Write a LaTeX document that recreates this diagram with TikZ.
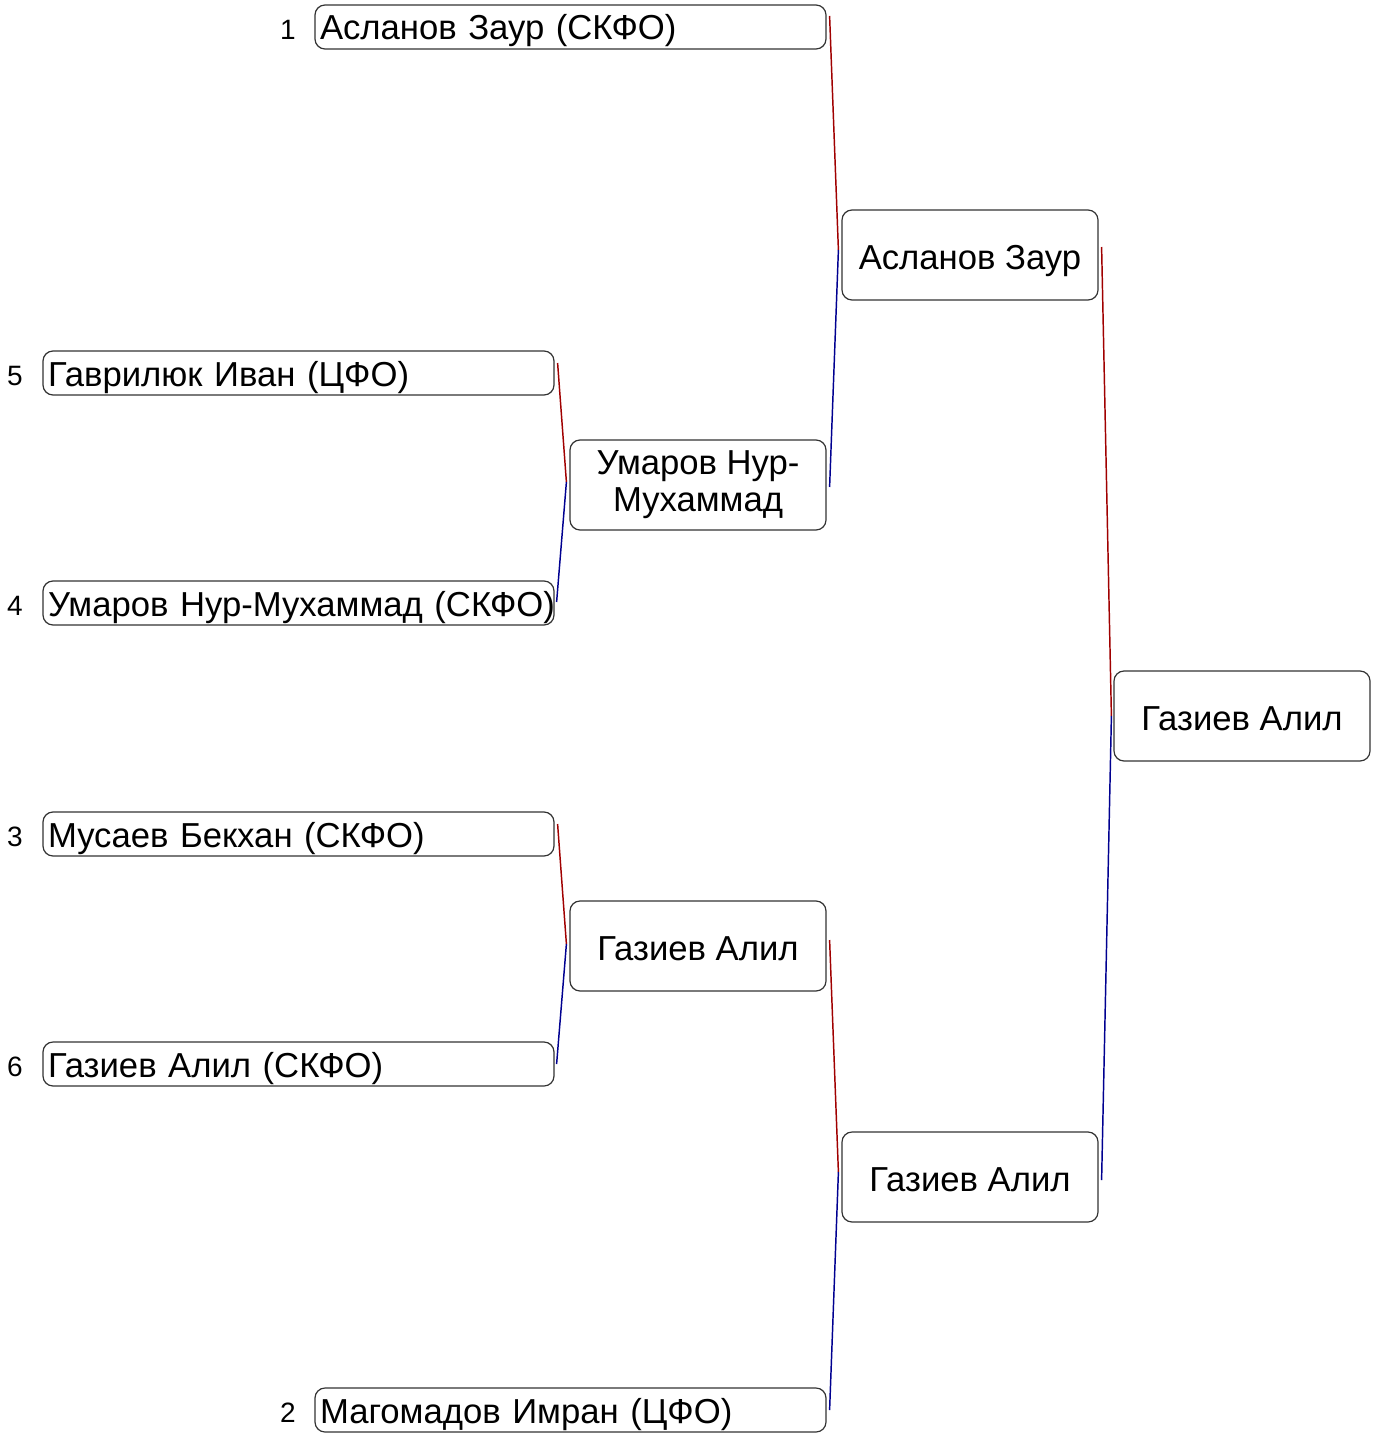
\documentclass[tikz,border=0pt]{standalone}
\usepackage{fontspec}
\setmainfont{Liberation Sans}
\usetikzlibrary{calc}
\definecolor{winred}{HTML}{A00000}
\definecolor{loseblue}{HTML}{000090}
\tikzset{
  entry/.style={draw=black!80, line width=0.9pt, rounded corners=7.5pt, rectangle,
    text width=375.75pt, inner xsep=3.75pt, inner ysep=0pt, minimum height=33pt, align=left,
    text height=22pt, text depth=2.5pt,
    font=\fontsize{26}{29}\selectfont},
  matchbase/.style={draw=black!80, line width=0.9pt, rounded corners=7.5pt, rectangle,
    minimum width=192pt, minimum height=67.5pt, inner sep=0pt, align=center,
    font=\fontsize{26}{27.75}\selectfont},
  match/.style={matchbase, text height=22pt, text depth=0pt},
  seed/.style={font=\fontsize{21}{24}\selectfont, inner sep=0pt},
  wline/.style={draw=winred, line width=1.1pt},
  lline/.style={draw=loseblue, line width=1.1pt}
}
\begin{document}
\begin{tikzpicture}[x=0.75pt,y=-0.75pt]
\useasboundingbox (0,0) rectangle (1382,1437);
% round 1
\node[entry] (b1) at (570.5,27) {\mbox{Асланов Заур (СКФО)}};
\node[entry] (b5) at (298.5,373) {\mbox{Гаврилюк Иван (ЦФО)}};
\node[entry] (b4) at (298.5,603) {\mbox{Умаров Нур-Мухаммад (СКФО)}};
\node[entry] (b3) at (298.5,834) {\mbox{Мусаев Бекхан (СКФО)}};
\node[entry] (b6) at (298.5,1064) {\mbox{Газиев Алил (СКФО)}};
\node[entry] (b2) at (570.5,1410) {\mbox{Магомадов Имран (ЦФО)}};
% seeds
\node[seed] (s1) at (288,30) {1};
\node[seed] (s5) at (15,376) {5};
\node[seed] (s4) at (15,606) {4};
\node[seed] (s3) at (15,837) {3};
\node[seed] (s6) at (15,1067) {6};
\node[seed] (s2) at (288,1413) {2};
% round 2
\node[matchbase] (r2a) at (698,485) {Умаров Нур-\\Мухаммад};
\node[match] (r2b) at (698,946) {Газиев Алил};
% round 3
\node[match] (r3a) at (970,255) {Асланов Заур};
\node[match] (r3b) at (970,1177) {Газиев Алил};
% final
\node[match] (fin) at (1242,716) {Газиев Алил};
% junctions
\coordinate (j1) at ([shift={(-3,-5)}]r3a.west);
\coordinate (j2) at ([shift={(-3,-3)}]r2a.west);
\coordinate (j3) at ([shift={(-3,-2)}]r2b.west);
\coordinate (j4) at ([shift={(-3,-5)}]r3b.west);
\coordinate (j5) at ([shift={(-2,0)}]fin.west);
% connectors
\draw[wline] ([shift={(3,-11)}]b1.east) -- (j1);
\draw[lline] ([shift={(3,2)}]r2a.east) -- (j1);
\draw[wline] ([shift={(3,-10)}]b5.east) -- (j2);
\draw[lline] ([shift={(2,-1)}]b4.east) -- (j2);
\draw[wline] ([shift={(3,-10)}]b3.east) -- (j3);
\draw[lline] ([shift={(2,0)}]b6.east) -- (j3);
\draw[wline] ([shift={(3,-6)}]r2b.east) -- (j4);
\draw[lline] ([shift={(3,0)}]b2.east) -- (j4);
\draw[wline] ([shift={(3,-8)}]r3a.east) -- (j5);
\draw[lline] ([shift={(3,3)}]r3b.east) -- (j5);
\end{tikzpicture}
\end{document}
